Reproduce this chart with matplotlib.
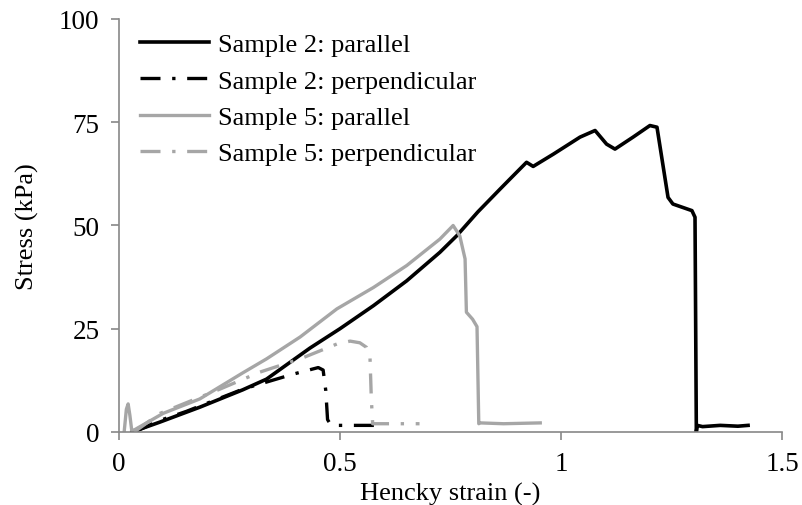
import matplotlib
matplotlib.use("Agg")
import matplotlib.pyplot as plt

plt.rcParams["font.family"] = ["Liberation Serif", "DejaVu Serif"]

# Sample 2, parallel (black solid)
s2_par_x = [0.03, 0.093, 0.183, 0.28, 0.334, 0.432, 0.5, 0.576, 0.651, 0.726, 0.764, 0.812,
            0.862, 0.885, 0.922, 0.937, 0.983, 1.043, 1.077, 1.103, 1.122, 1.163, 1.201,
            1.217, 1.242, 1.253, 1.296, 1.303, 1.306, 1.308, 1.32, 1.36, 1.40, 1.423]
s2_par_y = [0.0, 2.4, 6.0, 10.2, 12.8, 20.3, 25.0, 30.6, 36.6, 43.5, 47.5, 53.3,
            58.8, 61.3, 65.3, 64.3, 67.3, 71.4, 73.0, 69.7, 68.5, 71.4, 74.2,
            73.8, 56.8, 55.2, 53.6, 52.0, 0.0, 1.6, 1.3, 1.6, 1.4, 1.6]

# Sample 2, perpendicular (black dash-dot)
s2_perp_x = [0.035, 0.093, 0.153, 0.281, 0.394, 0.451, 0.462, 0.468, 0.472, 0.48, 0.55, 0.6]
s2_perp_y = [0.0, 2.8, 5.0, 10.4, 14.0, 15.6, 15.0, 10.0, 3.0, 1.6, 1.6, 1.6]

# Sample 5, parallel (grey solid)
s5_par_x = [0.012, 0.017, 0.021, 0.025, 0.029, 0.035, 0.1, 0.183, 0.28, 0.334, 0.41, 0.493,
            0.576, 0.651, 0.726, 0.756, 0.771, 0.783, 0.786, 0.8, 0.81, 0.814, 0.817, 0.87,
            0.953]
s5_par_y = [0.0, 5.5, 6.8, 4.0, 0.5, 0.5, 4.5, 8.0, 14.3, 17.7, 23.0, 29.8,
            35.0, 40.3, 46.7, 50.0, 47.5, 41.9, 29.0, 27.3, 25.5, 2.0, 2.2, 2.0,
            2.2]

# Sample 5, perpendicular (grey dash-dot)
s5_perp_x = [0.035, 0.093, 0.229, 0.319, 0.41, 0.493, 0.523, 0.545, 0.56, 0.568, 0.571, 0.574,
             0.62, 0.68]
s5_perp_y = [0.0, 4.5, 10.4, 14.5, 17.7, 21.3, 22.0, 21.6, 20.5, 18.0, 8.0, 2.0,
             2.0, 2.0]

x_ticks = [0, 0.5, 1, 1.5]
x_tick_labels = ["0", "0.5", "1", "1.5"]
y_ticks = [0, 25, 50, 75, 100]

fig = plt.figure(figsize=(8.03, 5.06), dpi=100)
ax = fig.add_axes([0.148, 0.1443, 0.826, 0.8162])

dashdot = (0, (6, 3.5, 1, 3.5))
ax.plot(s2_par_x, s2_par_y, color="black", lw=2.6, label="Sample 2: parallel")
ax.plot(s2_perp_x, s2_perp_y, color="black", lw=2.4, linestyle=dashdot,
        label="Sample 2: perpendicular")
ax.plot(s5_par_x, s5_par_y, color="#a6a6a6", lw=2.4, label="Sample 5: parallel")
ax.plot(s5_perp_x, s5_perp_y, color="#a6a6a6", lw=2.4, linestyle=dashdot,
        label="Sample 5: perpendicular")

ax.set_xlim(0, 1.5)
ax.set_ylim(0, 100)
ax.set_xticks(x_ticks)
ax.set_xticklabels(x_tick_labels)
ax.set_yticks(y_ticks)

for side in ("top", "right"):
    ax.spines[side].set_visible(False)
for side in ("left", "bottom"):
    ax.spines[side].set_color("#888888")
    ax.spines[side].set_linewidth(1.2)
ax.tick_params(axis="both", direction="out", length=6, width=1.2, color="#888888",
               labelsize=19.5)
ax.tick_params(axis="x", pad=8)
ax.tick_params(axis="y", pad=8)

ax.set_xlabel("Hencky strain (-)", fontsize=19, labelpad=4)
ax.set_ylabel("Stress (kPa)", fontsize=19, labelpad=14)

ax.legend(loc="upper left", frameon=False, fontsize=19, handlelength=2.6,
          handletextpad=0.34, labelspacing=0.48, borderpad=0, borderaxespad=0,
          bbox_to_anchor=(140 / 803, 1 - 34 / 506), bbox_transform=fig.transFigure)

fig.savefig("out.png", dpi=100)
